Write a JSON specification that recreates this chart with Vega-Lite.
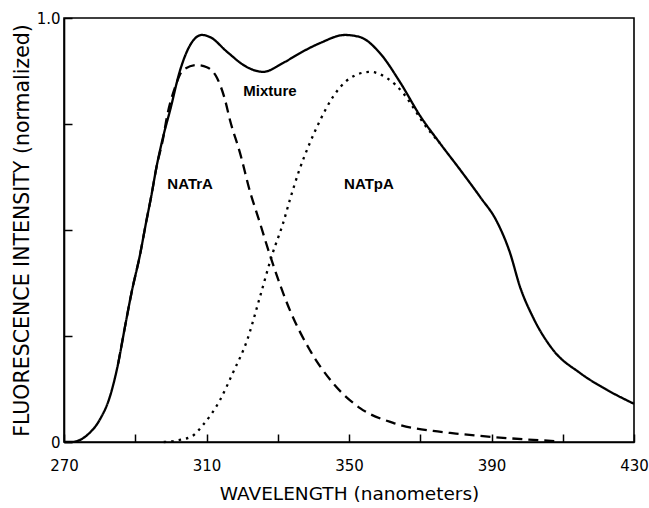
{
  "$schema": "https://vega.github.io/schema/vega-lite/v6.json",
  "width": 570,
  "height": 424,
  "autosize": "none",
  "padding": {"left": 64, "top": 18, "right": 15, "bottom": 66},
  "background": "white",
  "config": {
    "view": {"stroke": "black", "strokeWidth": 1.6},
    "font": "DejaVu Sans"
  },
  "layer": [
    {
      "data": {
        "values": [
          {"nm": 270, "v": 0, "s": "Mixture"},
          {"nm": 272, "v": 0, "s": "Mixture"},
          {"nm": 274.5, "v": 0.005, "s": "Mixture"},
          {"nm": 277, "v": 0.02, "s": "Mixture"},
          {"nm": 280, "v": 0.052, "s": "Mixture"},
          {"nm": 283, "v": 0.11, "s": "Mixture"},
          {"nm": 285.2, "v": 0.185, "s": "Mixture"},
          {"nm": 287.1, "v": 0.271, "s": "Mixture"},
          {"nm": 289.1, "v": 0.358, "s": "Mixture"},
          {"nm": 291.3, "v": 0.44, "s": "Mixture"},
          {"nm": 293, "v": 0.516, "s": "Mixture"},
          {"nm": 294.5, "v": 0.58, "s": "Mixture"},
          {"nm": 296, "v": 0.65, "s": "Mixture"},
          {"nm": 297.8, "v": 0.719, "s": "Mixture"},
          {"nm": 299.8, "v": 0.783, "s": "Mixture"},
          {"nm": 302.6, "v": 0.877, "s": "Mixture"},
          {"nm": 305.4, "v": 0.936, "s": "Mixture"},
          {"nm": 308.7, "v": 0.96, "s": "Mixture"},
          {"nm": 311, "v": 0.955, "s": "Mixture"},
          {"nm": 315.8, "v": 0.92, "s": "Mixture"},
          {"nm": 321.4, "v": 0.884, "s": "Mixture"},
          {"nm": 325.9, "v": 0.873, "s": "Mixture"},
          {"nm": 331.5, "v": 0.894, "s": "Mixture"},
          {"nm": 336.2, "v": 0.917, "s": "Mixture"},
          {"nm": 341.9, "v": 0.941, "s": "Mixture"},
          {"nm": 348.9, "v": 0.96, "s": "Mixture"},
          {"nm": 353.1, "v": 0.955, "s": "Mixture"},
          {"nm": 358.7, "v": 0.917, "s": "Mixture"},
          {"nm": 364.3, "v": 0.849, "s": "Mixture"},
          {"nm": 369.9, "v": 0.77, "s": "Mixture"},
          {"nm": 375.5, "v": 0.705, "s": "Mixture"},
          {"nm": 381.2, "v": 0.642, "s": "Mixture"},
          {"nm": 386.8, "v": 0.578, "s": "Mixture"},
          {"nm": 391.5, "v": 0.52, "s": "Mixture"},
          {"nm": 395.2, "v": 0.446, "s": "Mixture"},
          {"nm": 398, "v": 0.366, "s": "Mixture"},
          {"nm": 401.6, "v": 0.295, "s": "Mixture"},
          {"nm": 407.3, "v": 0.217, "s": "Mixture"},
          {"nm": 414.8, "v": 0.163, "s": "Mixture"},
          {"nm": 422.4, "v": 0.123, "s": "Mixture"},
          {"nm": 430, "v": 0.09, "s": "Mixture"},

          {"nm": 285.2, "v": 0.185, "s": "NATrA"},
          {"nm": 287.1, "v": 0.271, "s": "NATrA"},
          {"nm": 289.1, "v": 0.358, "s": "NATrA"},
          {"nm": 291.3, "v": 0.44, "s": "NATrA"},
          {"nm": 293, "v": 0.516, "s": "NATrA"},
          {"nm": 294.5, "v": 0.58, "s": "NATrA"},
          {"nm": 296, "v": 0.65, "s": "NATrA"},
          {"nm": 297.8, "v": 0.715, "s": "NATrA"},
          {"nm": 298.9, "v": 0.767, "s": "NATrA"},
          {"nm": 301.2, "v": 0.837, "s": "NATrA"},
          {"nm": 303.4, "v": 0.877, "s": "NATrA"},
          {"nm": 307.3, "v": 0.889, "s": "NATrA"},
          {"nm": 310.1, "v": 0.884, "s": "NATrA"},
          {"nm": 313, "v": 0.858, "s": "NATrA"},
          {"nm": 315.2, "v": 0.807, "s": "NATrA"},
          {"nm": 316.6, "v": 0.759, "s": "NATrA"},
          {"nm": 319.4, "v": 0.682, "s": "NATrA"},
          {"nm": 322.4, "v": 0.585, "s": "NATrA"},
          {"nm": 324.5, "v": 0.53, "s": "NATrA"},
          {"nm": 327.8, "v": 0.441, "s": "NATrA"},
          {"nm": 333.4, "v": 0.311, "s": "NATrA"},
          {"nm": 339, "v": 0.217, "s": "NATrA"},
          {"nm": 345.5, "v": 0.139, "s": "NATrA"},
          {"nm": 353.1, "v": 0.08, "s": "NATrA"},
          {"nm": 362.4, "v": 0.045, "s": "NATrA"},
          {"nm": 373.6, "v": 0.026, "s": "NATrA"},
          {"nm": 380, "v": 0.02, "s": "NATrA"},
          {"nm": 390, "v": 0.012, "s": "NATrA"},
          {"nm": 400, "v": 0.006, "s": "NATrA"},
          {"nm": 408, "v": 0.002, "s": "NATrA"},

          {"nm": 298, "v": 0, "s": "NATpA"},
          {"nm": 302, "v": 0.004, "s": "NATpA"},
          {"nm": 306, "v": 0.014, "s": "NATpA"},
          {"nm": 309, "v": 0.04, "s": "NATpA"},
          {"nm": 313.8, "v": 0.099, "s": "NATpA"},
          {"nm": 317.4, "v": 0.163, "s": "NATpA"},
          {"nm": 321.4, "v": 0.24, "s": "NATpA"},
          {"nm": 325, "v": 0.342, "s": "NATpA"},
          {"nm": 328.4, "v": 0.441, "s": "NATpA"},
          {"nm": 331.5, "v": 0.516, "s": "NATpA"},
          {"nm": 333.4, "v": 0.571, "s": "NATpA"},
          {"nm": 336, "v": 0.64, "s": "NATpA"},
          {"nm": 339, "v": 0.705, "s": "NATpA"},
          {"nm": 341.9, "v": 0.759, "s": "NATpA"},
          {"nm": 345.5, "v": 0.814, "s": "NATpA"},
          {"nm": 350.3, "v": 0.858, "s": "NATpA"},
          {"nm": 355.9, "v": 0.873, "s": "NATpA"},
          {"nm": 360.7, "v": 0.858, "s": "NATpA"},
          {"nm": 365.2, "v": 0.823, "s": "NATpA"},
          {"nm": 368.5, "v": 0.783, "s": "NATpA"},
          {"nm": 370.5, "v": 0.757, "s": "NATpA"},
          {"nm": 375.5, "v": 0.705, "s": "NATpA"}
        ]
      },
      "mark": {"type": "line", "color": "black", "strokeWidth": 2.3, "interpolate": "monotone", "strokeCap": "butt"},
      "encoding": {
        "x": {
          "field": "nm", "type": "quantitative",
          "scale": {"domain": [270, 430], "nice": false, "zero": false},
          "axis": {
            "title": "WAVELENGTH (nanometers)",
            "values": [270, 290, 310, 330, 350, 370, 390, 410, 430],
            "labelExpr": "(datum.value - 270) % 40 == 0 ? datum.label : ''",
            "grid": false,
            "domainColor": "black", "domainWidth": 1.6,
            "tickColor": "black", "tickWidth": 1.5, "tickSize": -8,
            "labelFont": "DejaVu Sans", "labelFontSize": 15, "labelColor": "black",
            "labelPadding": 24, "labelFlush": false,
            "titleFont": "DejaVu Sans", "titleFontSize": 18.5, "titleFontWeight": "normal", "titleColor": "black",
            "titlePadding": 11
          }
        },
        "y": {
          "field": "v", "type": "quantitative",
          "scale": {"domain": [0, 1], "nice": false},
          "axis": {
            "title": "FLUORESCENCE INTENSITY (normalized)",
            "values": [0, 0.25, 0.5, 0.75, 1],
            "labelExpr": "datum.value == 0 ? '0' : (datum.value == 1 ? '1.0' : '')",
            "grid": false,
            "domainColor": "black", "domainWidth": 1.6,
            "tickColor": "black", "tickWidth": 1.5, "tickSize": -8,
            "labelFont": "DejaVu Sans", "labelFontSize": 15, "labelColor": "black",
            "labelPadding": 12, "labelFlush": false,
            "titleFont": "DejaVu Sans", "titleFontSize": 20.5, "titleFontWeight": "normal", "titleColor": "black",
            "titlePadding": 4
          }
        },
        "strokeDash": {
          "field": "s", "type": "nominal",
          "scale": {"domain": ["Mixture", "NATrA", "NATpA"], "range": [[1, 0], [10, 6], [2.5, 5]]},
          "legend": null
        },
        "detail": {"field": "s"}
      }
    },
    {
      "data": {
        "values": [
          {"nm": 327.8, "v": 0.828, "t": "Mixture"},
          {"nm": 305.4, "v": 0.608, "t": "NATrA"},
          {"nm": 355.6, "v": 0.608, "t": "NATpA"}
        ]
      },
      "mark": {"type": "text", "font": "Liberation Sans", "fontSize": 15, "fontWeight": "bold", "color": "black", "align": "center", "baseline": "middle"},
      "encoding": {
        "x": {"field": "nm", "type": "quantitative"},
        "y": {"field": "v", "type": "quantitative"},
        "text": {"field": "t"}
      }
    }
  ]
}
